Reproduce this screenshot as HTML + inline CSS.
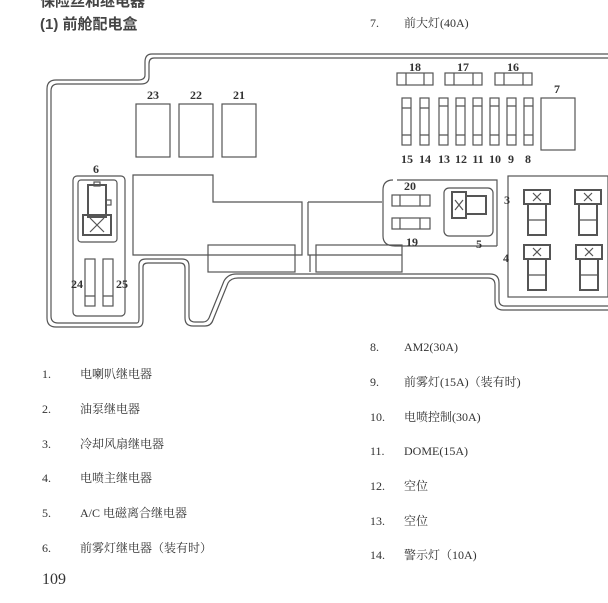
<!DOCTYPE html>
<html><head><meta charset="utf-8"><style>
html,body{margin:0;padding:0;background:#fff;width:608px;height:603px;overflow:hidden}
svg{display:block}
text{font-family:"Liberation Serif","Noto Serif CJK SC","Noto Sans CJK SC",serif;fill:#333}
.b{font-family:"Liberation Sans","Noto Sans CJK SC",sans-serif;font-weight:bold;fill:#444}
</style></head><body>
<svg width="608" height="603" viewBox="0 0 608 603" xmlns="http://www.w3.org/2000/svg">
<text class="b" x="40" y="6" font-size="15">保险丝和继电器</text>
<text class="b" x="40" y="29" font-size="15">(1)  前舱配电盒</text>
<text x="370" y="27" font-size="12">7.</text>
<text x="404" y="27" font-size="12">前大灯(40A)</text>

<g fill="none" stroke="#555" stroke-width="1.2">
<!-- outer double outline -->
<path d="M608,54 H152 Q145,54 145,62 V75 Q145,80 138,80 H56 Q47,80 47,89 V318 Q47,327 56,327 H138 Q143,327 143,320 V267 Q143,263 148,263 H180 Q185,263 185,268 V318 Q185,326 193,326 H205 Q211,326 213,320 L228,283 Q231,278 238,278 H488 Q495,278 495,285 V302 Q495,310 503,310 H608"/>
<path d="M608,58 H154 Q149,58 149,64 V77 Q149,84 141,84 H58 Q51,84 51,91 V316 Q51,323 58,323 H137 Q139,323 139,318 V265 Q139,259 146,259 H182 Q189,259 189,266 V316 Q189,322 195,322 H203 Q207,322 209,318 L224,281 Q228,274 236,274 H490 Q499,274 499,283 V300 Q499,306 505,306 H608"/>
<!-- relays 23 22 21 -->
<rect x="136" y="104" width="34" height="53"/><rect x="179" y="104" width="34" height="53"/><rect x="222" y="104" width="34" height="53"/>
<!-- big shapes -->
<path d="M133,175 H213 V202 H302 V255 H133 Z"/>
<rect x="208" y="245" width="87" height="27"/>
<path d="M308,202 H382 M308,202 V255 H402"/>
<rect x="316" y="245" width="86" height="27"/>
<line x1="310" y1="255" x2="310" y2="272"/>
<!-- group 6 -->
<rect x="73" y="176" width="52" height="140" rx="4"/>
<rect x="78" y="180" width="39" height="62" rx="3"/>
<rect x="88" y="185" width="18" height="32" stroke-width="2"/>
<rect x="94" y="182" width="6" height="4"/>
<rect x="106" y="200" width="5" height="5"/>
<rect x="83" y="215" width="28" height="20" stroke-width="2"/>
<path d="M90,218 L104,232 M104,218 L90,232"/>
<rect x="85" y="259" width="10" height="47"/><rect x="103" y="259" width="10" height="47"/>
<path d="M85,296 H95 M103,296 H113"/>
<!-- fuses 18 17 16 -->
<rect x="397" y="73" width="36" height="12"/><rect x="445" y="73" width="37" height="12"/><rect x="495" y="73" width="37" height="12"/>
<path d="M406,73 V85 M424,73 V85 M454,73 V85 M473,73 V85 M504,73 V85 M523,73 V85"/>
<!-- fuses 15..8 -->
<g>
<rect x="402" y="98" width="9" height="47"/><rect x="420" y="98" width="9" height="47"/><rect x="439" y="98" width="9" height="47"/><rect x="456" y="98" width="9" height="47"/><rect x="473" y="98" width="9" height="47"/><rect x="490" y="98" width="9" height="47"/><rect x="507" y="98" width="9" height="47"/><rect x="524" y="98" width="9" height="47"/>
<path d="M402,108 H411 M402,135 H411 M420,108 H429 M420,135 H429 M439,106 H448 M439,135 H448 M456,106 H465 M456,135 H465 M473,106 H482 M473,135 H482 M490,106 H499 M490,135 H499 M507,106 H516 M507,135 H516 M524,106 H533 M524,135 H533"/>
</g>
<rect x="541" y="98" width="34" height="52"/>
<!-- group 19/20 -->
<path d="M397,180 H497 V246 M497,246 H395 Q383,246 383,236 V190 Q383,180 393,180"/>
<rect x="392" y="195" width="38" height="11"/><rect x="392" y="218" width="38" height="11"/>
<path d="M400,195 V206 M420,195 V206 M400,218 V229 M420,218 V229"/>
<rect x="444" y="188" width="49" height="48" rx="5"/>
<rect x="452" y="192" width="14" height="26" stroke-width="2"/>
<rect x="466" y="196" width="20" height="18" stroke-width="2"/>
<path d="M455,200 L463,210 M463,200 L455,210"/>
<!-- right relays -->
<rect x="508" y="176" width="100" height="121"/>
<g stroke-width="2">
<rect x="524" y="190" width="26" height="14"/><rect x="528" y="204" width="18" height="31"/>
<rect x="575" y="190" width="26" height="14"/><rect x="579" y="204" width="18" height="31"/>
<rect x="524" y="245" width="26" height="14"/><rect x="528" y="259" width="18" height="31"/>
<rect x="576" y="245" width="26" height="14"/><rect x="580" y="259" width="18" height="31"/>
</g>
<path d="M533,193 L541,201 M541,193 L533,201 M584,193 L592,201 M592,193 L584,201 M533,248 L541,256 M541,248 L533,256 M585,248 L593,256 M593,248 L585,256 M528,220 H546 M579,220 H597 M528,275 H546 M580,275 H598"/>
</g>

<g class="b" font-size="12" text-anchor="middle">
<text x="153" y="99">23</text><text x="196" y="99">22</text><text x="239" y="99">21</text>
<text x="96" y="173">6</text><text x="77" y="288">24</text><text x="122" y="288">25</text>
<text x="415" y="71">18</text><text x="463" y="71">17</text><text x="513" y="71">16</text>
<text x="557" y="93">7</text>
<text x="407" y="163">15</text><text x="425" y="163">14</text><text x="444" y="163">13</text><text x="461" y="163">12</text><text x="478" y="163">11</text><text x="495" y="163">10</text><text x="511" y="163">9</text><text x="528" y="163">8</text>
<text x="410" y="190">20</text><text x="412" y="246">19</text><text x="479" y="248">5</text>
<text x="507" y="204">3</text><text x="506" y="262">4</text>
</g>

<g font-size="12">
<text x="42" y="378">1.</text><text x="80" y="378">电喇叭继电器</text>
<text x="42" y="413">2.</text><text x="80" y="413">油泵继电器</text>
<text x="42" y="448">3.</text><text x="80" y="448">冷却风扇继电器</text>
<text x="42" y="482">4.</text><text x="80" y="482">电喷主继电器</text>
<text x="42" y="517">5.</text><text x="80" y="517">A/C 电磁离合继电器</text>
<text x="42" y="552">6.</text><text x="80" y="552">前雾灯继电器（装有时）</text>
<text x="370" y="351">8.</text><text x="404" y="351">AM2(30A)</text>
<text x="370" y="386">9.</text><text x="404" y="386">前雾灯(15A)（装有时)</text>
<text x="370" y="421">10.</text><text x="404" y="421">电喷控制(30A)</text>
<text x="370" y="455">11.</text><text x="404" y="455">DOME(15A)</text>
<text x="370" y="490">12.</text><text x="404" y="490">空位</text>
<text x="370" y="525">13.</text><text x="404" y="525">空位</text>
<text x="370" y="559">14.</text><text x="404" y="559">警示灯（10A)</text>
</g>
<text x="42" y="584" font-size="16">109</text>
</svg>
</body></html>
